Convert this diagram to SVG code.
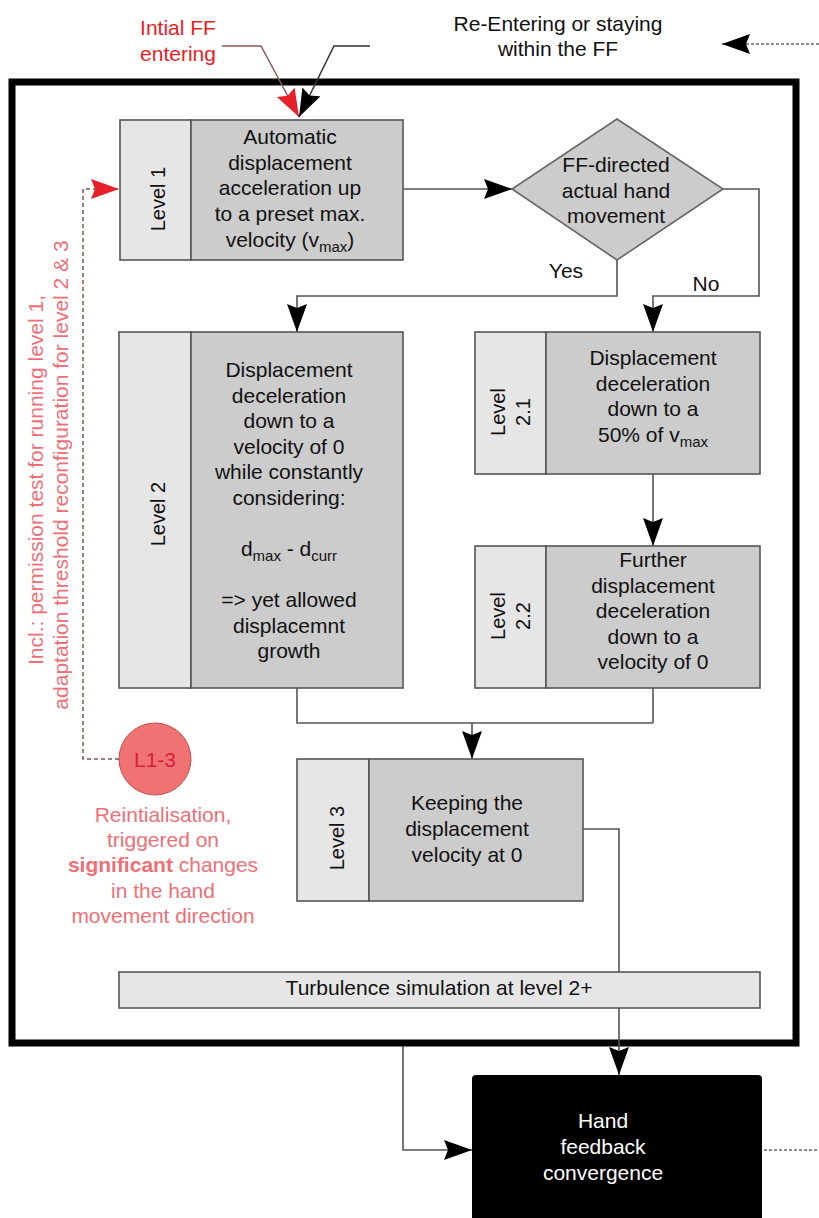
<svg xmlns="http://www.w3.org/2000/svg" width="819" height="1218" viewBox="0 0 819 1218">
<style>
.t{font-family:"Liberation Sans",Arial,sans-serif;font-size:21px;fill:#111;text-anchor:middle}
.lv{font-size:20px}
.w{fill:#fff}
.pk{fill:#ef6f76}
.rd{fill:#ee1c24}
.conn{stroke:#555;stroke-width:1.6;fill:none}
.bl{fill:#e6e6e6;stroke:#555;stroke-width:1.6}
.br{fill:#cccccc;stroke:#555;stroke-width:1.6}
.dash{stroke:#666;stroke-width:1.5;stroke-dasharray:3,2;fill:none}
.rdash{stroke:#7a5656;stroke-width:1.5;stroke-dasharray:4,3;fill:none}
</style>
<defs>
<marker id="ah" markerUnits="userSpaceOnUse" viewBox="0 0 28 20" refX="28" refY="10" markerWidth="28" markerHeight="20" orient="auto">
<path d="M0,0 L28,10 L0,20 L4,10 Z" fill="#000"/>
</marker>
<marker id="ahr" markerUnits="userSpaceOnUse" viewBox="0 0 28 20" refX="28" refY="10" markerWidth="28" markerHeight="20" orient="auto">
<path d="M0,0 L28,10 L0,20 L4,10 Z" fill="#e8202a"/>
</marker>
</defs>

<rect id="frame" x="12" y="82" width="784" height="961" fill="none" stroke="#000" stroke-width="7"/>

<g id="connectors">
<path class="conn" d="M403,189 H512" marker-end="url(#ah)"/>
<path class="conn" d="M617,260 V296 H297 V332" marker-end="url(#ah)"/>
<path class="conn" d="M723,189 H759 V296 H653 V332" marker-end="url(#ah)"/>
<path class="conn" d="M653,474 V546" marker-end="url(#ah)"/>
<path class="conn" d="M297,688 V723 H653 M653,688 V723"/>
<path class="conn" d="M472,723 V759" marker-end="url(#ah)"/>
<path class="conn" d="M583,829 H619 V1075" marker-end="url(#ah)"/>
<path class="conn" d="M403,1046 V1150 H472" marker-end="url(#ah)"/>
<path class="dash" d="M764,1150 H819"/>
<path class="dash" d="M819,44 H722" marker-end="url(#ah)"/>
<path d="M222,46 H261 L299,117" fill="none" stroke="#8b5a5a" stroke-width="1.5" marker-end="url(#ahr)"/>
<path d="M370,46 H334 L299,117" fill="none" stroke="#333" stroke-width="1.5" marker-end="url(#ah)"/>
<path class="rdash" d="M119,759 H83 V189 H119" marker-end="url(#ahr)"/>
</g>

<g id="top-labels">
<text class="t rd" x="178" y="35">Intial FF</text>
<text class="t rd" x="178" y="61">entering</text>
<text class="t" x="558" y="31">Re-Entering or staying</text>
<text class="t" x="558" y="56">within the FF</text>
</g>

<g id="level1">
<rect class="bl" x="120" y="120" width="71" height="140"/>
<rect class="br" x="191" y="120" width="212" height="140"/>
<text class="t lv" x="165" y="199" transform="rotate(-90 165 199)">Level 1</text>
<text class="t" x="290" y="144">Automatic</text>
<text class="t" x="290" y="170">displacement</text>
<text class="t" x="290" y="195">acceleration up</text>
<text class="t" x="290" y="221">to a preset max.</text>
<text class="t" x="290" y="247">velocity (v<tspan font-size="15" dy="5">max</tspan><tspan dy="-5">)</tspan></text>
</g>

<g id="decision">
<polygon points="617,119 723,189 617,260 512,189" fill="#cccccc" stroke="#666" stroke-width="1.6"/>
<text class="t" x="616" y="172">FF-directed</text>
<text class="t" x="616" y="198">actual hand</text>
<text class="t" x="616" y="223">movement</text>
<text class="t" x="566" y="278">Yes</text>
<text class="t" x="706" y="291">No</text>
</g>

<g id="level2">
<rect class="bl" x="119" y="332" width="72" height="356"/>
<rect class="br" x="191" y="332" width="212" height="356"/>
<text class="t lv" x="165" y="514" transform="rotate(-90 165 514)">Level 2</text>
<text class="t" x="289" y="377">Displacement</text>
<text class="t" x="289" y="403">deceleration</text>
<text class="t" x="289" y="428">down to a</text>
<text class="t" x="289" y="454">velocity of 0</text>
<text class="t" x="289" y="479">while constantly</text>
<text class="t" x="289" y="505">considering:</text>
<text class="t" x="289" y="556">d<tspan font-size="15" dy="5">max</tspan><tspan dy="-5"> - d</tspan><tspan font-size="15" dy="5">curr</tspan></text>
<text class="t" x="289" y="607">=&gt; yet allowed</text>
<text class="t" x="289" y="633">displacemnt</text>
<text class="t" x="289" y="658">growth</text>
</g>

<g id="level2-1">
<rect class="bl" x="475" y="332" width="71" height="142"/>
<rect class="br" x="546" y="332" width="214" height="142"/>
<text class="t lv" x="505" y="412" transform="rotate(-90 505 412)">Level</text>
<text class="t lv" x="530" y="412" transform="rotate(-90 530 412)">2.1</text>
<text class="t" x="653" y="365">Displacement</text>
<text class="t" x="653" y="391">deceleration</text>
<text class="t" x="653" y="416">down to a</text>
<text class="t" x="653" y="442">50% of v<tspan font-size="15" dy="5">max</tspan></text>
</g>

<g id="level2-2">
<rect class="bl" x="475" y="546" width="71" height="142"/>
<rect class="br" x="546" y="546" width="214" height="142"/>
<text class="t lv" x="505" y="616" transform="rotate(-90 505 616)">Level</text>
<text class="t lv" x="530" y="616" transform="rotate(-90 530 616)">2.2</text>
<text class="t" x="653" y="567">Further</text>
<text class="t" x="653" y="593">displacement</text>
<text class="t" x="653" y="618">deceleration</text>
<text class="t" x="653" y="644">down to a</text>
<text class="t" x="653" y="669">velocity of 0</text>
</g>

<g id="level3">
<rect class="bl" x="297" y="759" width="72" height="142"/>
<rect class="br" x="369" y="759" width="214" height="142"/>
<text class="t lv" x="344" y="838" transform="rotate(-90 344 838)">Level 3</text>
<text class="t" x="467" y="810">Keeping the</text>
<text class="t" x="467" y="836">displacement</text>
<text class="t" x="467" y="862">velocity at 0</text>
</g>

<g id="turbulence">
<rect class="bl" x="119" y="972" width="641" height="36"/>
<text class="t" x="439" y="995">Turbulence simulation at level 2+</text>
</g>

<g id="hand-feedback">
<rect x="472" y="1075" width="290" height="150" rx="4" fill="#000"/>
<text class="t w" x="603" y="1128">Hand</text>
<text class="t w" x="603" y="1154">feedback</text>
<text class="t w" x="603" y="1180">convergence</text>
</g>

<g id="reinit">
<circle cx="155" cy="759" r="36" fill="#f07272" stroke="#c05050" stroke-width="1"/>
<text class="t" x="155" y="767" style="fill:#d81f3c">L1-3</text>
<text class="t pk" x="163" y="822">Reintialisation,</text>
<text class="t pk" x="163" y="847">triggered on</text>
<text class="t pk" x="163" y="872"><tspan font-weight="bold">significant</tspan> changes</text>
<text class="t pk" x="163" y="898">in the hand</text>
<text class="t pk" x="163" y="923">movement direction</text>
</g>

<g id="note">
<text class="t pk" x="43" y="480" transform="rotate(-90 43 480)">Incl.: permission test for running level 1,</text>
<text class="t pk" x="68" y="475" transform="rotate(-90 68 475)">adaptation threshold reconfiguration for level 2 &amp; 3</text>
</g>
</svg>
